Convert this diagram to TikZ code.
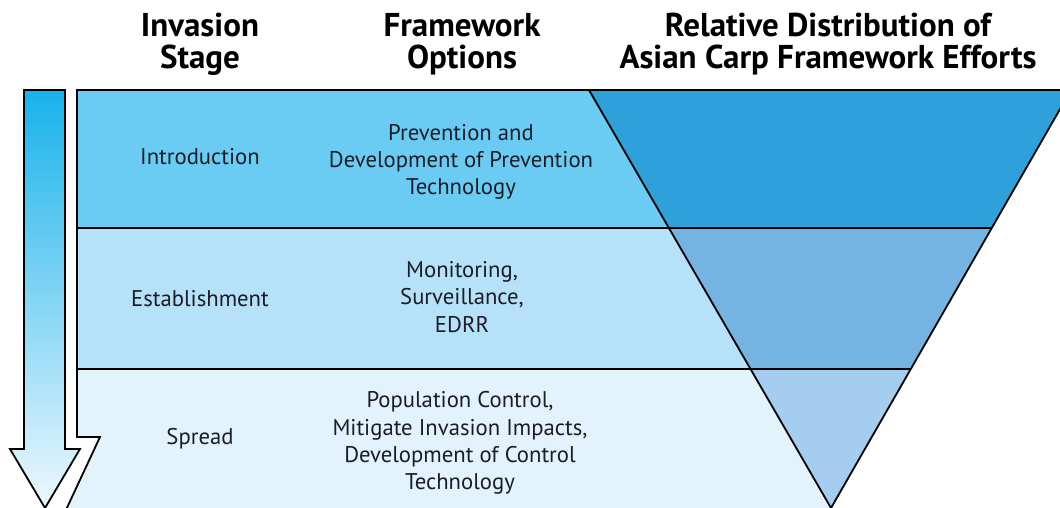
\documentclass[tikz,border=0pt]{standalone}
\usepackage{fontspec}
\setmainfont{PT Sans}
\definecolor{bandA}{HTML}{6ACCF2}
\definecolor{bandB}{HTML}{B5E2F8}
\definecolor{bandC}{HTML}{E2F3FC}
\definecolor{triA}{HTML}{2EA0DA}
\definecolor{triB}{HTML}{75B4E2}
\definecolor{triC}{HTML}{A4CDEF}
\definecolor{arrTop}{HTML}{18B2EC}
\definecolor{arrBot}{HTML}{EEF8FD}
\definecolor{txtc}{HTML}{1C1C28}
\begin{document}
\begin{tikzpicture}[x=1pt,y=-1pt,line width=1.8pt,line join=miter,
  hdr/.style={font=\bfseries\fontsize{33}{32}\selectfont,align=center,inner sep=0pt,text=black},
  txt/.style={font=\fontsize{22.7}{27.3}\selectfont,align=center,inner sep=0pt,text=txtc},
  outl/.style={draw=black,line width=1.8pt}]
\useasboundingbox (0,0) rectangle (1060,508);
\clip (0,0) rectangle (1060,508);
% bands
\fill[bandA] (77,90) -- (589,90) -- (669,228) -- (77,228) -- cycle;
\fill[bandB] (77,228) -- (669,228) -- (750,369) -- (77,369) -- cycle;
\fill[bandC] (77,369) -- (750,369) -- (832,512) -- (65,512) -- (100,437) -- (77,437) -- cycle;
% inverted triangle
\fill[triA] (589,90) -- (1071,90) -- (991,228) -- (669,228) -- cycle;
\fill[triB] (669,228) -- (991,228) -- (911,369) -- (750,369) -- cycle;
\fill[triC] (750,369) -- (911,369) -- (831,508) -- cycle;
% outlines
\draw[outl] (65,512) -- (100,437) -- (77,437) -- (77,90) -- (1075,90);
\draw[outl] (77,228) -- (991,228);
\draw[outl] (77,369) -- (911,369);
\draw[outl] (589,90) -- (831,508) -- (1071,90);
% stage arrow
\shade[top color=arrTop,bottom color=arrBot,draw=black,line width=1.8pt]
  (24,90) -- (65,90) -- (65,449) -- (80,449) -- (45,508) -- (10,449) -- (24,449) -- cycle;
% headers
\node[hdr] (hStage) at (200,44) {Invasion\\Stage};
\node[hdr] (hOpt) at (462,44) {Framework\\Options};
\node[hdr] (hDist) at (828,44) {Relative Distribution of\\Asian Carp Framework Efforts};
% stages
\node[txt] (sIntro) at (200,157) {Introduction};
\node[txt] (sEst) at (200,299) {Establishment};
\node[txt] (sSpr) at (200,439) {Spread};
% options
\node[txt] (oPrev) at (461,162) {Prevention and\\Development of Prevention\\Technology};
\node[txt] (oMon) at (462,297) {Monitoring,\\Surveillance,\\EDRR};
\node[txt] (oPop) at (460,443) {Population Control,\\Mitigate Invasion Impacts,\\Development of Control\\Technology};
\end{tikzpicture}
\end{document}
